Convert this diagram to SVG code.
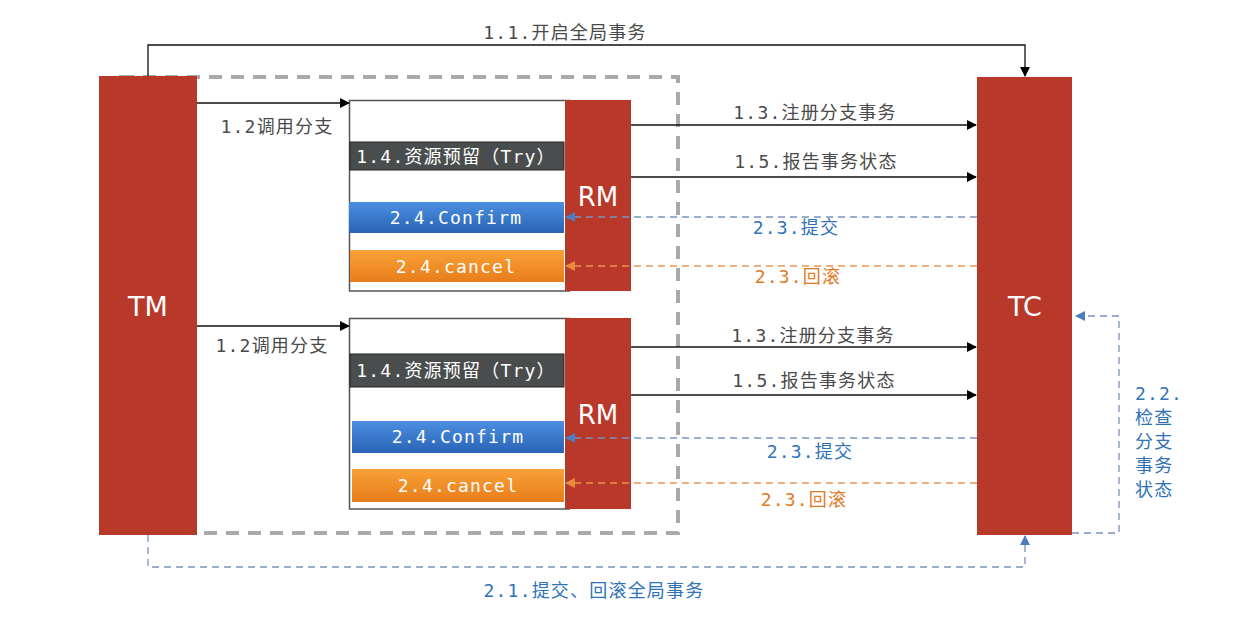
<svg xmlns="http://www.w3.org/2000/svg" width="1241" height="631" viewBox="0 0 1241 631">
<style>
.red{fill:#b8392a}
.big{font-family:"DejaVu Sans","Liberation Sans",sans-serif;font-size:27px;fill:#fff;text-anchor:middle}
.t{font-family:"DejaVu Sans Mono","Noto Sans CJK SC",monospace;font-size:18px;letter-spacing:1.2px;text-anchor:middle}
.g{fill:#4a4a4a}
.b{fill:#2e72b8}
.o{fill:#e07a25}
.w{fill:#fff}
.ln{stroke:#111;stroke-width:1.3;fill:none}
.bl{stroke:#7893c0;stroke-width:1.3;fill:none;stroke-dasharray:7,5}
.ol{stroke:#ec9450;stroke-width:1.3;fill:none;stroke-dasharray:7,5}
.box{fill:#fff;stroke:#555;stroke-width:1.5}
</style>
<defs>
<marker id="ak" markerWidth="10" markerHeight="10" refX="9" refY="5" orient="auto" markerUnits="userSpaceOnUse"><path d="M0,0 L10,5 L0,10 z" fill="#000"/></marker>
<marker id="ab" markerWidth="10" markerHeight="10" refX="9" refY="5" orient="auto" markerUnits="userSpaceOnUse"><path d="M0,0 L10,5 L0,10 z" fill="#4e7cc0"/></marker>
<marker id="ao" markerWidth="10" markerHeight="10" refX="9" refY="5" orient="auto" markerUnits="userSpaceOnUse"><path d="M0,0 L10,5 L0,10 z" fill="#ec8a3e"/></marker>
<linearGradient id="gb" x1="0" y1="0" x2="0" y2="1"><stop offset="0" stop-color="#4b8fe0"/><stop offset="1" stop-color="#2a63b6"/></linearGradient>
<linearGradient id="go" x1="0" y1="0" x2="0" y2="1"><stop offset="0" stop-color="#f9a137"/><stop offset="1" stop-color="#e87d1a"/></linearGradient>
</defs>

<g id="scope">
<rect x="121" y="77" width="557" height="456" fill="none" stroke="#aaa" stroke-width="4" stroke-dasharray="13,9"/>
</g>

<g id="TM">
<rect class="red" x="99" y="76" width="98" height="459"/>
<text class="big" x="148" y="316">TM</text>
</g>

<g id="TC">
<rect class="red" x="977" y="77" width="95" height="458"/>
<text class="big" x="1025" y="316">TC</text>
</g>

<g id="branch1">
<rect class="box" x="349.5" y="100.5" width="220" height="190.5"/>
<rect class="red" x="565" y="100" width="66" height="191"/>
<text class="big" x="598" y="206" style="font-size:26px">RM</text>
<rect x="350" y="142" width="214" height="28" fill="#4a4d4d" stroke="#222" stroke-width="1"/>
<text class="t w" x="456" y="163">1.4.资源预留（Try）</text>
<rect x="349" y="202" width="215" height="31" fill="url(#gb)"/>
<text class="t w" x="456" y="224">2.4.Confirm</text>
<rect x="350" y="250" width="214" height="32" fill="url(#go)"/>
<text class="t w" x="456" y="273">2.4.cancel</text>
</g>

<g id="branch2">
<rect class="box" x="349.5" y="318.5" width="220" height="190.5"/>
<rect class="red" x="565" y="318" width="66" height="191"/>
<text class="big" x="598" y="424" style="font-size:26px">RM</text>
<rect x="350" y="354" width="214" height="33" fill="#4a4d4d" stroke="#222" stroke-width="1"/>
<text class="t w" x="456" y="377">1.4.资源预留（Try）</text>
<rect x="352" y="421" width="212" height="32" fill="url(#gb)"/>
<text class="t w" x="458" y="443">2.4.Confirm</text>
<rect x="352" y="469" width="212" height="33" fill="url(#go)"/>
<text class="t w" x="458" y="492">2.4.cancel</text>
</g>

<g id="connectors">
<path class="ln" d="M148,76 V45 H1025 V76" marker-end="url(#ak)"/>
<text class="t g" x="565" y="39">1.1.开启全局事务</text>

<path class="ln" d="M197,103 H349" marker-end="url(#ak)"/>
<text class="t g" x="277" y="133">1.2调用分支</text>
<path class="ln" d="M197,326 H349" marker-end="url(#ak)"/>
<text class="t g" x="272" y="352">1.2调用分支</text>

<path class="ln" d="M631,125 H976" marker-end="url(#ak)"/>
<text class="t g" x="815" y="119">1.3.注册分支事务</text>
<path class="ln" d="M631,177 H976" marker-end="url(#ak)"/>
<text class="t g" x="816" y="168">1.5.报告事务状态</text>
<path class="bl" d="M977,217 H566" marker-end="url(#ab)"/>
<text class="t b" x="796" y="234">2.3.提交</text>
<path class="ol" d="M977,266 H566" marker-end="url(#ao)"/>
<text class="t o" x="798" y="283">2.3.回滚</text>

<path class="ln" d="M631,347 H976" marker-end="url(#ak)"/>
<text class="t g" x="813" y="342">1.3.注册分支事务</text>
<path class="ln" d="M631,395 H976" marker-end="url(#ak)"/>
<text class="t g" x="814" y="387">1.5.报告事务状态</text>
<path class="bl" d="M977,438 H566" marker-end="url(#ab)"/>
<text class="t b" x="810" y="458">2.3.提交</text>
<path class="ol" d="M977,483 H566" marker-end="url(#ao)"/>
<text class="t o" x="804" y="506">2.3.回滚</text>

<path class="bl" d="M1072,533 H1119 V316 H1076" marker-end="url(#ab)"/>
<g class="t b" style="text-anchor:start">
<text x="1135" y="400">2.2.</text>
<text x="1135" y="424">检查</text>
<text x="1135" y="448">分支</text>
<text x="1135" y="472">事务</text>
<text x="1135" y="496">状态</text>
</g>

<path class="bl" d="M148,535 V567 H1025 V536" marker-end="url(#ab)"/>
<text class="t b" x="594" y="597">2.1.提交、回滚全局事务</text>
</g>
</svg>
